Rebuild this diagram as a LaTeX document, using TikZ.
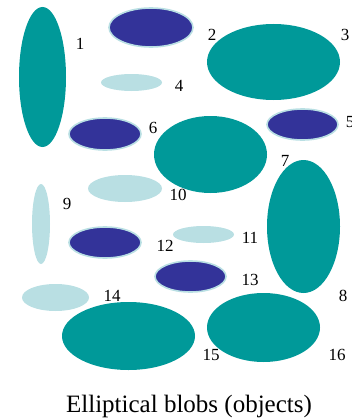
\documentclass[tikz,border=0pt]{standalone}
\usepackage{fontspec}
\setmainfont{Liberation Serif}
\usetikzlibrary{shapes.geometric}
\definecolor{tealc}{RGB}{0,153,153}
\definecolor{darkc}{RGB}{51,51,153}
\definecolor{lightc}{RGB}{185,223,227}
\tikzset{
  blob/.style={ellipse, inner sep=0pt, draw=none},
  tealblob/.style={blob, fill=tealc},
  lightblob/.style={blob, fill=lightc},
  darkblob/.style={blob, fill=darkc, draw=lightc, line width=1.6pt},
  num/.style={inner sep=0pt, font=\fontsize{17}{17}\selectfont},
}
\begin{document}
\begin{tikzpicture}[x=1pt,y=-1pt]
\useasboundingbox (0,0) rectangle (351,420);
% blobs: center, width, height
\node[tealblob,minimum width=47pt,minimum height=140pt] (b1) at (42.5,77) {};
\node[darkblob,minimum width=84pt,minimum height=39pt] (b2) at (151,27.5) {};
\node[tealblob,minimum width=133pt,minimum height=76pt] (b3) at (273.5,62) {};
\node[lightblob,minimum width=61pt,minimum height=17pt] (b4) at (131.5,82.5) {};
\node[darkblob,minimum width=71pt,minimum height=31pt] (b5) at (302.5,124.5) {};
\node[darkblob,minimum width=72pt,minimum height=32pt] (b6) at (105,134) {};
\node[tealblob,minimum width=113pt,minimum height=77pt] (b7) at (210.5,154.5) {};
\node[tealblob,minimum width=73pt,minimum height=133pt] (b8) at (303.5,226.5) {};
\node[lightblob,minimum width=18pt,minimum height=80pt] (b9) at (41,224) {};
\node[lightblob,minimum width=74pt,minimum height=27pt] (b10) at (125,188.5) {};
\node[lightblob,minimum width=61pt,minimum height=17pt] (b11) at (203.5,234.5) {};
\node[darkblob,minimum width=72pt,minimum height=31pt] (b12) at (105,242.5) {};
\node[darkblob,minimum width=71pt,minimum height=31pt] (b13) at (190.5,276.5) {};
\node[lightblob,minimum width=67pt,minimum height=27pt] (b14) at (55.5,297.5) {};
\node[tealblob,minimum width=133pt,minimum height=68pt] (b15) at (128.5,336) {};
\node[tealblob,minimum width=113pt,minimum height=69pt] (b16) at (263.5,327.5) {};
% labels
\node[num] (l1) at (80,44) {1};
\node[num] (l2) at (212,35) {2};
\node[num] (l3) at (345,35) {3};
\node[num] (l4) at (179,86) {4};
\node[num] (l5) at (350,122) {5};
\node[num] (l6) at (153,128) {6};
\node[num] (l7) at (285,161) {7};
\node[num] (l8) at (343,296) {8};
\node[num] (l9) at (67,204) {9};
\node[num] (l10) at (178,195) {10};
\node[num] (l11) at (250,238) {11};
\node[num] (l12) at (165,246) {12};
\node[num] (l13) at (250,280) {13};
\node[num] (l14) at (112,296) {14};
\node[num] (l15) at (211,355) {15};
\node[num] (l16) at (337,355) {16};
\node[inner sep=0pt, font=\fontsize{25}{25}\selectfont] (title) at (189,406) {Elliptical blobs (objects)};
\end{tikzpicture}
\end{document}
